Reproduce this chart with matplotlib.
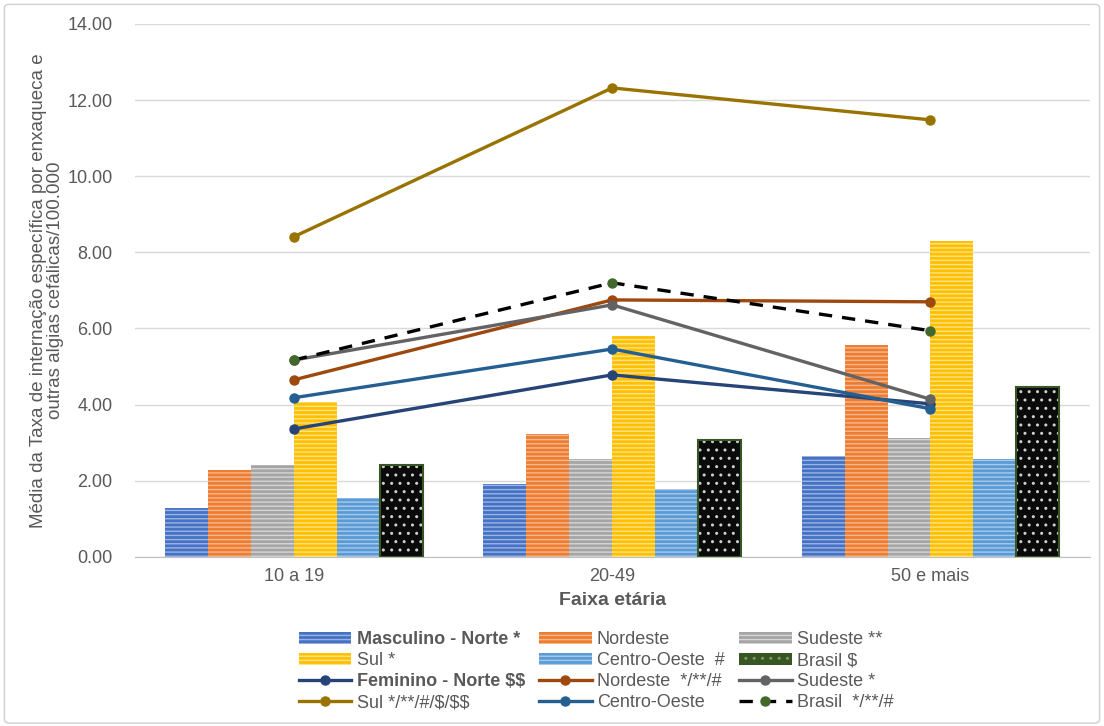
import numpy as np
import matplotlib
matplotlib.use("Agg")
import matplotlib.pyplot as plt
from matplotlib.patches import Patch, FancyBboxPatch
from matplotlib.lines import Line2D

plt.rcParams['font.family'] = ['Liberation Sans', 'DejaVu Sans']

faixas = ['10 a 19', '20-49', '50 e mais']
regioes = ['Norte', 'Nordeste', 'Sudeste', 'Sul', 'Centro-Oeste', 'Brasil']

# masculino (barras)
masc_norte = [1.28, 1.92, 2.65]
masc_nordeste = [2.28, 3.23, 5.57]
masc_sudeste = [2.42, 2.57, 3.12]
masc_sul = [4.07, 5.80, 8.30]
masc_co = [1.55, 1.78, 2.57]
masc_brasil = [2.42, 3.07, 4.47]

# feminino (linhas)
fem_norte = [3.36, 4.78, 4.02]
fem_nordeste = [4.65, 6.75, 6.70]
fem_sudeste = [5.17, 6.62, 4.14]
fem_sul = [8.41, 12.32, 11.48]
fem_co = [4.18, 5.46, 3.89]
fem_brasil = [5.17, 7.20, 5.94]

masc_labels = ['Masculino - Norte *', 'Nordeste', 'Sudeste **', 'Sul *',
               'Centro-Oeste  #', 'Brasil \\$']
fem_labels = ['Feminino - Norte \\$\\$', 'Nordeste  */**/#', 'Sudeste *',
              'Sul */**/#/\\$/\\$\\$', 'Centro-Oeste', 'Brasil  */**/#']

bar_colors = ['#4472C4', '#ED7D31', '#A5A5A5', '#FFC000', '#5B9BD5', '#0a0a0a']
hatch_colors = ['#9db4e3', '#f7b88f', '#d6d6d6', '#ffe28a', '#a9c9ea', '#ffffff']
line_colors = ['#264478', '#9E480E', '#636363', '#997300', '#255E91', '#000000']

fig = plt.figure(figsize=(11.04, 7.26), dpi=100)
frame = FancyBboxPatch((0.004, 0.004), 0.992, 0.99, boxstyle="round,pad=0,rounding_size=0.005",
                       transform=fig.transFigure, fc='none', ec='#d0d0d0', lw=1, zorder=-1)
fig.patches.append(frame)
ax = fig.add_axes([0.122, 0.233, 0.865, 0.734])

x = np.arange(len(faixas))
w = 0.135
masc = [masc_norte, masc_nordeste, masc_sudeste, masc_sul, masc_co, masc_brasil]
fem = [fem_norte, fem_nordeste, fem_sudeste, fem_sul, fem_co, fem_brasil]

bar_handles = []
for i, vals in enumerate(masc):
    pos = x + (i - 2.5) * w
    if i < 5:
        ax.bar(pos, vals, w, color=bar_colors[i], edgecolor=hatch_colors[i],
               hatch='----', lw=0, zorder=2)
        h = Patch(facecolor=bar_colors[i], edgecolor=hatch_colors[i], hatch='----', lw=0)
    else:
        ax.bar(pos, vals, w, color=bar_colors[i], edgecolor='#cfcfcf', hatch='..',
               lw=0, zorder=2)
        ax.bar(pos, vals, w, fill=False, edgecolor='#375623', lw=1.5, zorder=3)
        h = Patch(facecolor='#375623', edgecolor='#7a9a5f', hatch='..', lw=0)
    bar_handles.append(h)

line_handles = []
for i, vals in enumerate(fem):
    if i < 5:
        l, = ax.plot(x, vals, color=line_colors[i], lw=2.4, marker='o', ms=6.5, zorder=4)
    else:
        l, = ax.plot(x, vals, color='black', lw=2.4, ls=(0, (4, 3)), marker='o', ms=6.5,
                     mfc='#43682B', mec='#43682B', zorder=4)
    line_handles.append(l)

ax.set_xlim(-0.5, 2.5)
ax.set_ylim(0, 14)
ax.set_yticks(np.arange(0, 15, 2))
ax.set_yticklabels([f'{v:.2f}' for v in np.arange(0, 15, 2)])
ax.set_xticks(x)
ax.set_xticklabels(faixas)
ax.grid(axis='y', color='#d9d9d9', lw=1, zorder=0)
ax.set_axisbelow(True)
for s in ['top', 'right', 'left']:
    ax.spines[s].set_visible(False)
ax.spines['bottom'].set_color('#bfbfbf')
ax.tick_params(axis='both', length=0, labelsize=13, colors='#595959', pad=8)
ax.tick_params(axis='y', pad=16)
ax.set_xlabel('Faixa etária', fontsize=14, fontweight='bold', color='#595959', labelpad=5)
ax.set_ylabel('Média da Taxa de internação específica por enxaqueca e\noutras algias cefálicas/100.000',
              fontsize=13.5, color='#595959', labelpad=2, linespacing=1.0)

handles = bar_handles + line_handles
labels = masc_labels + fem_labels
# legend fills by column, reorder so rows read across
order = [0, 3, 6, 9, 1, 4, 7, 10, 2, 5, 8, 11]
leg = fig.legend([handles[k] for k in order], [labels[k] for k in order],
                 loc='lower center', bbox_to_anchor=(0.54, -0.002), ncol=3, frameon=False,
                 fontsize=13, handlelength=2.9, handleheight=0.7, columnspacing=0.8,
                 labelspacing=0.22, handletextpad=0.3)
for t in leg.get_texts():
    t.set_color('#595959')
leg.get_texts()[0].set_fontweight('bold')
leg.get_texts()[2].set_fontweight('bold')

fig.savefig('out.png', dpi=100)
